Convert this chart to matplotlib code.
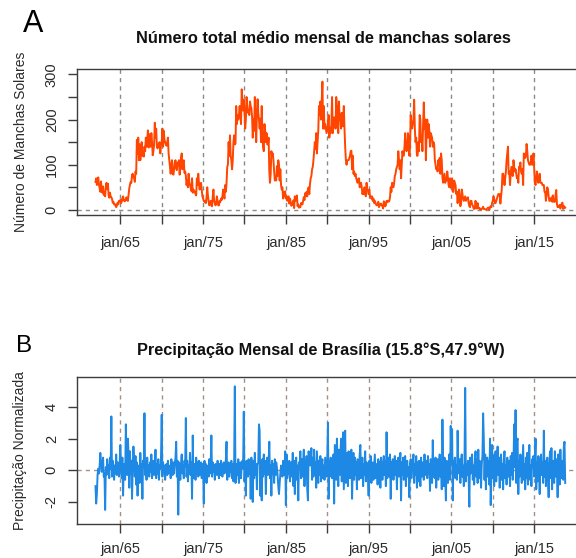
import numpy as np
import matplotlib
matplotlib.use("Agg")
import matplotlib.pyplot as plt

plt.rcParams['font.family'] = ['Liberation Sans', 'DejaVu Sans']
plt.rcParams['axes.unicode_minus'] = False

start_year = 1962
tick_years = [1965, 1970, 1975, 1980, 1985, 1990, 1995, 2000, 2005, 2010, 2015]
tick_labels = ['jan/65', '', 'jan/75', '', 'jan/85', '', 'jan/95', '', 'jan/05', '', 'jan/15']

title_a = 'Número total médio mensal de manchas solares'
title_b = 'Precipitação Mensal de Brasília (15.8°S,47.9°W)'
ylabel_a = 'Número de Manchas Solares'
ylabel_b = 'Precipitação Normalizada'

# Monthly mean total sunspot number, Jan 1962 - Oct 2018
sunspots = [
    62, 70, 55, 58, 72, 56, 48, 40, 63, 44, 38, 52,
    33, 38, 30, 52, 60, 46, 58, 32, 27, 38, 30, 28,
    24, 16, 18, 12, 13, 10, 6, 10, 16, 12, 20, 19,
    22, 15, 18, 26, 30, 22, 19, 20, 24, 28, 21, 20,
    35, 48, 56, 62, 60, 78, 80, 72, 70, 62, 85, 80,
    155, 125, 160, 110, 145, 110, 130, 150, 120, 128, 118, 140,
    130, 160, 140, 155, 176, 138, 152, 168, 140, 170, 150, 121,
    130, 145, 193, 160, 180, 140, 136, 142, 148, 150, 125, 145,
    150, 180, 140, 175, 155, 150, 145, 142, 148, 160, 125, 110,
    95, 80, 100, 110, 80, 78, 90, 105, 110, 92, 88, 105,
    100, 110, 78, 95, 115, 125, 90, 105, 110, 82, 85, 75,
    55, 65, 50, 80, 60, 55, 48, 42, 70, 38, 45, 42,
    40, 35, 32, 70, 55, 80, 60, 45, 55, 60, 45, 30,
    25, 20, 18, 20, 15, 28, 50, 32, 18, 10, 15, 20,
    10, 8, 30, 45, 20, 15, 10, 15, 30, 18, 10, 10,
    20, 18, 25, 22, 30, 45, 35, 25, 55, 40, 60, 95,
    100, 150, 120, 165, 120, 110, 90, 110, 150, 165, 145, 147,
    230, 190, 210, 200, 210, 230, 210, 190, 267, 240, 220, 244,
    220, 180, 200, 250, 230, 215, 220, 210, 240, 230, 225, 207,
    160, 200, 175, 250, 200, 150, 210, 245, 215, 200, 180, 202,
    150, 230, 165, 140, 130, 190, 175, 150, 170, 145, 145, 160,
    85, 60, 80, 130, 120, 125, 110, 85, 65, 70, 65, 97,
    75, 110, 100, 65, 90, 55, 45, 50, 25, 30, 40, 41,
    25, 30, 20, 28, 30, 14, 25, 18, 9, 12, 15, 21,
    4, 30, 20, 25, 32, 8, 12, 5, 6, 6, 15, 15,
    12, 20, 28, 22, 37, 30, 40, 30, 45, 50, 35, 58,
    70, 75, 90, 95, 110, 130, 150, 135, 170, 125, 150, 176,
    230, 210, 240, 200, 240, 284, 180, 230, 180, 190, 180, 170,
    180, 190, 210, 160, 180, 170, 190, 250, 170, 195, 205, 200,
    180, 250, 230, 190, 170, 240, 200, 210, 180, 215, 185, 190,
    230, 180, 140, 110, 100, 110, 110, 110, 115, 120, 130, 131,
    90, 120, 80, 85, 75, 80, 70, 65, 60, 68, 70, 50,
    55, 60, 50, 35, 40, 35, 50, 35, 30, 60, 45, 44,
    35, 45, 30, 30, 25, 30, 20, 25, 15, 20, 15, 11,
    10, 12, 18, 6, 10, 13, 14, 10, 8, 3, 19, 16,
    8, 10, 20, 18, 20, 18, 20, 28, 50, 40, 60, 55,
    50, 60, 75, 80, 90, 95, 100, 130, 110, 90, 110, 70,
    100, 130, 120, 120, 140, 170, 140, 130, 135, 170, 160, 120,
    140, 210, 190, 180, 190, 200, 244, 180, 150, 160, 120, 120,
    150, 130, 210, 200, 150, 160, 130, 190, 238, 180, 200, 110,
    170, 200, 160, 190, 175, 140, 170, 165, 160, 140, 150, 145,
    110, 100, 90, 95, 85, 110, 100, 115, 80, 125, 110, 72,
    60, 70, 80, 60, 70, 65, 85, 70, 55, 50, 70, 49,
    50, 70, 40, 40, 65, 60, 55, 35, 40, 15, 35, 45,
    25, 8, 15, 45, 35, 25, 20, 25, 30, 20, 25, 24,
    28, 15, 8, 6, 20, 20, 12, 10, 4, 2, 3, 20,
    5, 3, 15, 4, 3, 4, 1, 0, 2, 4, 7, 2,
    2, 1, 1, 1, 3, 5, 5, 0, 6, 8, 6, 16,
    20, 30, 25, 15, 15, 20, 25, 30, 35, 35, 35, 14,
    30, 45, 80, 80, 70, 55, 70, 85, 110, 125, 140, 80,
    85, 55, 80, 95, 95, 75, 110, 95, 85, 90, 80, 70,
    75, 60, 95, 95, 105, 85, 80, 90, 55, 125, 115, 115,
    120, 146, 130, 110, 105, 100, 100, 105, 120, 100, 100, 125,
    90, 60, 55, 70, 85, 70, 60, 65, 80, 60, 60, 60,
    55, 55, 55, 40, 40, 20, 35, 50, 45, 30, 20, 20,
    25, 27, 18, 32, 18, 20, 18, 33, 44, 13, 6, 8,
    7, 11, 3, 9, 14, 16, 2, 9, 4, 5,
]

# Normalized monthly precipitation, Brasília, Jan 1962 - Oct 2018
precip = [
    -1.0, -2.1, -1.5, -0.3, 0.1, -0.2, 0.3, 1.1, 0.5, -0.1, 0.4, 0.8,
    -0.4, -0.2, -2.5, 0.2, -0.3, 0.7, -0.1, 0.3, -0.5, 0.8, 0.1, 3.4,
    -0.4, 0.6, 0.2, -0.6, 0.3, -0.2, 1.0, -0.3, 0.5, 0.1, -0.4, 0.4,
    1.6, 0.3, -0.5, 0.8, -1.6, 0.4, 0.2, -0.6, 2.9, 0.6, -0.3, 2.0,
    0.9, -1.1, 1.2, -0.2, 0.6, -1.8, 0.3, 1.5, 0.7, -0.4, 0.9, -0.9,
    0.5, -1.6, 0.3, 0.0, -0.8, 1.1, -0.3, 0.4, -1.8, 0.6, 0.2, 3.6,
    -0.3, 0.4, -0.6, 0.8, -0.2, 0.3, -0.4, 0.5, -0.1, 1.0, -0.5, 0.2,
    0.6, -0.3, 0.2, 1.3, -0.5, 0.4, -0.2, 0.7, -0.6, 0.3, 0.1, 0.9,
    3.5, -0.4, 0.5, -0.1, 0.3, -0.6, 0.2, 0.4, -0.3, 0.6, -0.2, 0.1,
    0.3, -0.5, 0.7, 0.0, -0.3, 0.5, -0.2, 0.4, 0.8, 1.8, -0.4, 0.6,
    -2.8, 0.5, 0.2, -0.6, 0.4, 1.0, -0.2, 0.3, -0.5, 0.6, 0.2, 3.3,
    -0.4, 0.6, -0.7, 0.3, -0.2, 1.1, -0.3, 0.5, -1.8, 2.2, -0.5, 0.4,
    0.3, -0.6, 0.8, -0.2, 0.5, -0.4, 0.6, -0.3, 0.2, 0.5, -0.5, 0.4,
    0.3, -2.1, 0.6, -0.3, 0.4, -0.8, 0.3, 0.1, -0.4, 0.7, -0.2, 0.3,
    2.2, -0.4, 0.5, -0.1, 0.3, -0.6, 0.4, 0.2, -0.3, 0.6, 0.1, -0.5,
    0.4, -0.3, 0.6, 0.2, -0.4, 0.3, 0.5, -0.2, 0.1, 0.7, 1.8, -0.6,
    0.2, 0.5, -0.4, 0.3, -0.1, 0.6, -0.5, 0.4, -0.7, 0.3, 5.3, -0.8,
    -0.6, 0.4, -0.3, 0.7, -0.8, 0.2, 0.5, -0.5, 0.3, 0.6, 0.1, 3.7,
    -0.7, 0.4, -1.6, 0.6, 0.3, -0.4, 0.7, -0.2, 0.5, -1.8, 0.8, 0.2,
    -2.0, 0.6, -0.5, 1.1, -0.3, 0.4, -1.2, 0.3, 0.5, 2.9, 2.5, -1.6,
    0.5, -1.9, 0.7, -0.4, 1.0, -0.2, 0.6, -1.5, 0.4, 0.8, -0.3, 0.5,
    1.8, -0.5, 0.3, -1.6, 0.6, -0.2, 0.4, -0.8, 0.7, -0.3, 0.5, 0.2,
    -0.3, -1.0, -1.5, -0.8, -0.2, 0.3, 0.1, -0.4, 0.6, 0.2, -0.3, 1.2,
    -2.2, 1.0, -0.5, 0.4, -0.2, 0.6, -0.7, 0.3, 0.5, -0.4, 1.1, -1.0,
    0.6, -1.5, 0.4, 0.8, -0.6, 0.3, -1.9, 0.5, 0.2, 1.2, -0.5, 0.7,
    -0.4, 0.5, 1.3, -1.0, 0.6, -0.3, 0.9, -1.2, -1.9, 1.2, 0.4, 0.3,
    0.5, 1.4, -0.6, 0.8, -0.4, 1.3, -0.2, 0.5, -1.1, 1.2, 0.2, -0.8,
    0.6, -0.3, 0.9, -0.7, 0.4, 0.7, -0.5, 0.3, -0.6, 0.8, 0.2, -0.4,
    0.5, 3.0, -1.8, 0.6, -0.4, 0.8, 0.2, -0.5, 0.4, 1.0, -2.1, 1.6,
    1.5, -0.6, 2.0, 0.4, -1.0, 1.3, -0.3, 0.8, 2.0, -0.7, 1.0, 2.4,
    -1.2, 0.7, 2.5, -0.8, 1.1, 0.6, -1.0, 1.2, 0.3, -0.5, 0.9, 1.3,
    -1.8, 0.4, 1.1, -0.6, 0.8, -0.3, 0.5, -1.2, 0.7, 0.2, -0.6, 1.0,
    1.6, -0.5, 0.3, 0.8, -1.0, 0.4, -0.3, 1.2, -0.7, 0.5, 0.2, -0.4,
    -1.6, 0.6, -0.2, 0.9, -0.8, 0.3, 0.5, -0.6, 0.2, 1.0, -0.5, 0.4,
    0.3, -0.9, 0.7, -0.4, 0.5, -1.1, 0.8, 0.2, -0.6, 0.4, 0.9, -0.3,
    0.6, -1.0, 2.4, -0.5, 0.3, 0.8, -0.4, 1.0, -1.8, 0.5, -0.2, 0.7,
    -0.6, 0.4, 0.9, -0.3, 0.6, -1.2, 0.5, 0.8, -0.4, 0.3, 1.1, -1.9,
    0.5, -0.3, 0.8, -0.6, 0.4, 0.9, -1.0, 0.3, 0.6, -0.4, 0.2, -1.7,
    0.4, 0.7, -0.5, 0.3, 0.6, 1.0, -0.8, 0.4, -0.3, 0.9, -1.1, 0.5,
    -0.7, 0.6, 0.3, -1.0, 0.8, -0.4, 0.5, 0.2, -0.6, 1.0, -0.3, 0.4,
    0.6, -0.5, 0.9, -0.2, 0.4, -1.3, 0.7, 0.3, -0.8, 1.9, -0.4, 0.6,
    -0.5, 0.8, -1.1, 0.4, 0.7, -0.6, 0.3, 1.0, -0.4, 0.5, -1.2, 3.2,
    0.3, -1.0, 0.8, -0.4, -1.9, 0.6, 0.2, -0.8, 0.5, 1.0, -0.6, 2.8,
    0.4, 2.6, -1.9, 0.6, -0.3, 0.8, -0.5, 0.3, -0.6, 2.5, 0.4, -0.2,
    0.7, -0.8, 0.5, 1.0, -0.4, 0.3, -1.0, 0.6, 5.2, -0.7, 0.4, -0.3,
    0.6, -0.5, -2.3, 0.8, -0.2, 0.4, 1.0, -0.6, 0.3, -0.9, 0.5, 1.2,
    -0.4, 0.7, -0.8, 1.3, -0.5, 0.6, 0.2, -1.1, 0.4, 0.9, 3.6, 1.9,
    -0.6, 1.0, -1.2, 0.5, 0.8, -0.4, 0.6, -0.9, 2.0, -2.2, 0.3, 1.6,
    -0.5, 0.9, -1.0, 0.4, 1.2, -0.7, 0.6, 1.5, -0.3, 0.8, -1.1, 0.5,
    1.0, -0.6, 0.4, -1.2, 0.7, 1.2, -0.5, 0.3, -0.9, 0.8, 0.2, -0.4,
    0.6, -1.0, 0.9, -0.3, 1.1, -0.6, 0.4, 2.9, 0.2, 3.8, -0.8, 1.8,
    2.0, -1.5, 0.6, -0.4, 1.0, 0.3, -0.8, 0.5, 1.6, -0.6, 0.4, -1.2,
    0.8, -0.5, 1.1, -0.9, 0.4, 1.6, -0.6, 0.3, -1.0, 0.7, 0.2, 0.9,
    -0.4, 0.6, 2.0, -1.2, 0.5, -0.7, 0.9, 0.3, -1.5, 0.6, 1.0, -0.3,
    0.5, -0.8, 2.5, -0.4, 0.6, -1.0, 0.3, 0.8, -0.6, -1.7, 0.4, 1.2,
    -0.5, 1.4, -1.2, 0.6, 0.3, -0.8, 1.2, -0.4, 0.7, 0.2, -1.7, 1.0,
    0.4, -0.9, 1.3, -0.5, 0.6, 0.2, -0.6, 1.5, 1.8, -0.8,
]

t_sun = start_year + np.arange(len(sunspots)) / 12.0
t_pre = start_year + np.arange(len(precip)) / 12.0

W, H = 576, 558
fig = plt.figure(figsize=(W / 100, H / 100), dpi=100)

def px_axes(left, top, right, bottom):
    return fig.add_axes([left / W, 1 - bottom / H, (right - left) / W, (bottom - top) / H])

span = t_sun[-1] - t_sun[0]
xlim = (t_sun[0] - 0.04 * span, t_sun[-1] + 0.04 * span)

frame_col = '#3c3c3c'
text_col = '#2a2a2a'

def style(ax, grid_col, xpad):
    for y in tick_years:
        ax.axvline(y, color=grid_col, lw=1.0, dashes=(3, 3), zorder=1)
    ax.axhline(0, color=grid_col, lw=1.0, dashes=(3, 3), zorder=1)
    ax.set_xlim(*xlim)
    ax.set_xticks(tick_years)
    ax.set_xticklabels(tick_labels)
    for s in ax.spines.values():
        s.set_color(frame_col)
        s.set_linewidth(1.0)
    ax.tick_params(axis='both', direction='out', length=6.4, width=1.0,
                   color=frame_col, labelcolor=text_col, labelsize=10.5)
    ax.tick_params(axis='x', pad=xpad)
    ax.tick_params(axis='y', pad=6.5)
    for lab in ax.get_yticklabels():
        lab.set_rotation(90)
        lab.set_va('center')

# Panel A
axA = px_axes(76.7, 69, 584, 215.3)
axA.plot(t_sun, sunspots, color='#ff4500', lw=1.4, zorder=3)
axA.set_ylim(-12, 312)
axA.set_yticks([0, 50, 100, 150, 200, 250, 300])
axA.set_yticklabels(['0', '', '100', '', '200', '', '300'])
style(axA, '#8a8a8a', 8.5)

# Panel B
axB = px_axes(76.7, 377.3, 584, 524)
axB.plot(t_pre, precip, color='#1e88e5', lw=1.4, zorder=3)
axB.set_ylim(-3.39, 5.87)
axB.set_yticks([-2, 0, 2, 4])
axB.set_yticklabels(['-2', '0', '2', '4'])
style(axB, '#a09088', 6.8)

fig.text(136 / W, 1 - 38.5 / H, title_a, fontsize=11.8, fontweight='bold',
         ha='left', va='center', color='#111111')
fig.text(136.7 / W, 1 - 350 / H, title_b, fontsize=11.8, fontweight='bold',
         ha='left', va='center', color='#111111')
fig.text(20.7 / W, 1 - 142.2 / H, ylabel_a, rotation=90, fontsize=10,
         ha='center', va='center', color=text_col)
fig.text(20.5 / W, 1 - 450.7 / H, ylabel_b, rotation=90, fontsize=10,
         ha='center', va='center', color=text_col)
fig.text(33 / W, 1 - 24 / H, 'A', fontsize=22, ha='center', va='center', color='#000000')
fig.text(24.5 / W, 1 - 345.5 / H, 'B', fontsize=17.5, ha='center', va='center', color='#000000')

fig.savefig('out.png', dpi=100)
